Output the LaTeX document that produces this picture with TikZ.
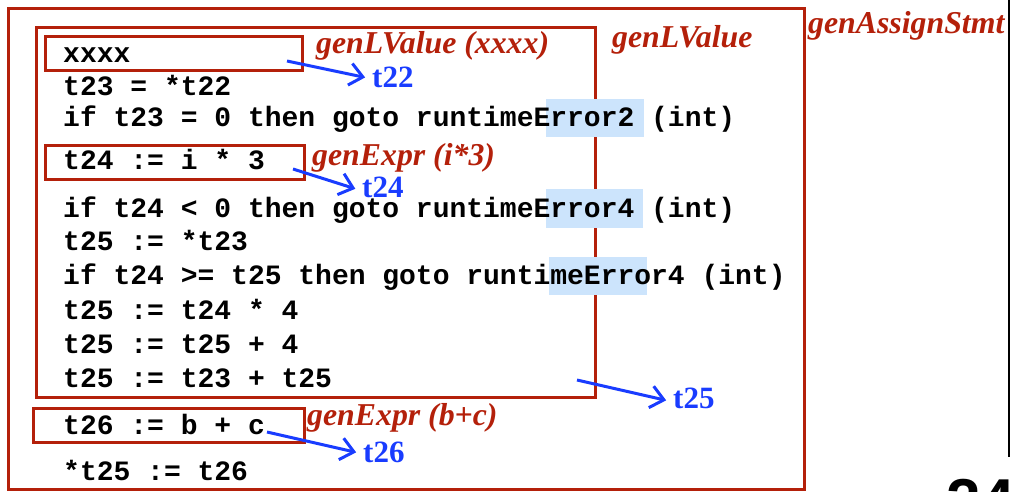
\documentclass[tikz,border=0pt]{standalone}
\usepackage{fontspec}
\setmainfont{Liberation Serif}
\newfontfamily\codefont{Liberation Mono}
\newfontfamily\pagefont{Liberation Sans}
\usetikzlibrary{arrows.meta}

\definecolor{boxred}{RGB}{180,32,10}
\definecolor{tmpblue}{RGB}{25,60,255}
\definecolor{hilite}{RGB}{204,228,252}

\tikzset{
  frame/.style={draw=boxred, line width=3pt},
  hlbox/.style={fill=hilite, draw=none},
  code/.style={anchor=base west, inner sep=0pt, font=\codefont\bfseries\fontsize{28}{28}\selectfont},
  fname/.style={anchor=base west, inner sep=0pt, text=boxred, font=\bfseries\itshape\fontsize{31.8}{31.8}\selectfont},
  tmpname/.style={anchor=base west, inner sep=0pt, text=tmpblue, font=\bfseries\fontsize{31}{31}\selectfont},
  result/.style={draw=tmpblue, line width=3pt, shorten >=7pt,
    -{Straight Barb[length=13pt, width=22pt, line width=3pt]}},
}

\begin{document}
\begin{tikzpicture}[x=1pt, y=-1pt]
\useasboundingbox (0,0) rectangle (1010,491);
\clip (0,0) rectangle (1010,491);

% nested boxes of the code generator calls
\draw[frame] (8,8) rectangle (804,489);
\draw[frame] (36,27) rectangle (595,397);
\draw[frame] (45,36) rectangle (302,70);
\draw[frame] (45,145) rectangle (304,179);
\draw[frame] (33,408) rectangle (304,442);

% highlighted runtime error labels
\fill[hlbox] (546,99) rectangle (644,137);
\fill[hlbox] (546,189) rectangle (643,228);
\fill[hlbox] (549,257) rectangle (647,295);

% generated code
\node[code] (l1)  at (63,62)  {xxxx};
\node[code] (l2)  at (63,95)  {t23 = *t22};
\node[code] (l3)  at (63,126) {if t23 = 0 then goto runtimeError2 (int)};
\node[code] (l4)  at (63,169) {t24 := i * 3};
\node[code] (l5)  at (63,217) {if t24 < 0 then goto runtimeError4 (int)};
\node[code] (l6)  at (63,250) {t25 := *t23};
\node[code] (l7)  at (63,284) {if t24 >= t25 then goto runtimeError4 (int)};
\node[code] (l8)  at (63,319) {t25 := t24 * 4};
\node[code] (l9)  at (63,353) {t25 := t25 + 4};
\node[code] (l10) at (63,387) {t25 := t23 + t25};
\node[code] (l11) at (63,434) {t26 := b + c};
\node[code] (l12) at (63,480) {*t25 := t26};

% generator function names
\node[fname] (fLVx)  at (316,53)  {genLValue (xxxx)};
\node[fname] (fLV)   at (612,47)  {genLValue};
\node[fname] (fAS)   at (808,33)  {genAssignStmt};
\node[fname] (fEi)   at (312,165) {genExpr (i*3)};
\node[fname] (fEbc)  at (307,425) {genExpr (b+c)};

% result temporaries
\node[tmpname] (r22) at (372,87)  {t22};
\node[tmpname] (r24) at (362,197) {t24};
\node[tmpname] (r25) at (673,408) {t25};
\node[tmpname] (r26) at (363,462) {t26};

\coordinate (s22) at (287,61);
\coordinate (s24) at (293,169);
\coordinate (s25) at (577,380);
\coordinate (s26) at (267,432);

\draw[result] (s22) -- ([yshift=-2pt]r22.west);
\draw[result] (s24) -- ([yshift=-4pt]r24.west);
\draw[result] (s25) -- ([yshift=-4pt]r25.west);
\draw[result] (s26) -- ([yshift=-2pt]r26.west);

% slide edge and clipped page number
\coordinate (edgeTop) at (1009,0);
\coordinate (edgeBot) at (1009,457);
\draw[black, line width=1.2pt] (edgeTop) -- (edgeBot);
\node[anchor=base west, inner sep=0pt, font=\pagefont\bfseries\fontsize{62}{62}\selectfont] (pg) at (946,522) {24};
\end{tikzpicture}
\end{document}
